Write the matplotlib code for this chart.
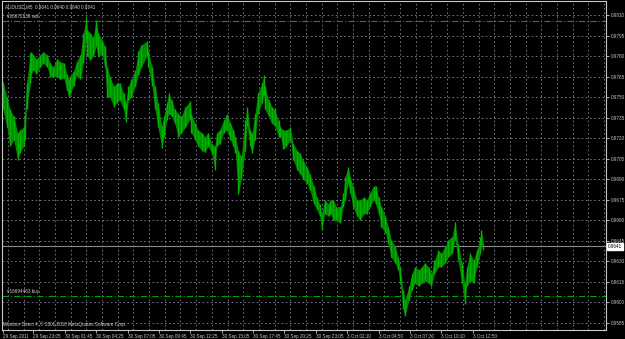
import matplotlib.pyplot as plt
import numpy as np

plt.rcParams['lines.scale_dashes'] = False
plt.rcParams['font.family'] = ['Liberation Sans', 'DejaVu Sans']

# AUDUSD M5, sampled bars (bar index, high, low)
bars = [0, 4, 7, 11, 15, 17, 21, 22, 24, 28, 29, 31, 34, 38, 41, 45, 48, 51, 55, 58,
        62, 65, 67, 68, 72, 75, 79, 82, 85, 86, 89, 92, 95, 97, 101, 104, 106, 109, 113, 116,
        119, 123, 125, 128, 131, 135, 138, 141, 147, 148, 152, 155, 158, 162, 164, 167, 169,
        172, 175, 179, 182, 186, 191, 192, 196, 199, 203, 206, 209, 213, 216, 218, 221, 225,
        228, 232, 235, 237, 240, 243, 247, 249, 252, 254, 257, 260, 264, 266, 267, 271, 274,
        277, 281, 283, 286, 289, 293, 296, 300, 303, 306, 310, 313, 317, 320, 323, 325, 328,
        332, 334, 337, 340, 344, 347, 349, 352, 354, 357, 361, 364, 368, 371, 374, 378, 380,
        383, 386, 390, 393, 396, 400, 403, 405, 408, 410, 414, 417, 420, 424, 427, 430, 434,
        437, 440, 444, 447, 451, 454, 458, 461, 464, 468, 471, 473, 476, 480, 483, 487, 488, 490]
high = [0.9761, 0.9750, 0.9741, 0.9736, 0.9724, 0.9726, 0.9728, 0.9738, 0.9760, 0.9782,
        0.9783, 0.9781, 0.9778, 0.9781, 0.9783, 0.9781, 0.9775, 0.9772, 0.9778, 0.9776,
        0.9775, 0.9767, 0.9763, 0.9765, 0.9769, 0.9776, 0.9781, 0.9797, 0.9808, 0.9799,
        0.9797, 0.9794, 0.9806, 0.9797, 0.9792, 0.9787, 0.9772, 0.9765, 0.9758, 0.9760,
        0.9760, 0.9753, 0.9746, 0.9758, 0.9763, 0.9770, 0.9784, 0.9788, 0.9791, 0.9784,
        0.9772, 0.9758, 0.9746, 0.9729, 0.9736, 0.9746, 0.9753,
        0.9748, 0.9741, 0.9738, 0.9736, 0.9743, 0.9747, 0.9738, 0.9731, 0.9726, 0.9724,
        0.9721, 0.9724, 0.9716, 0.9714, 0.9724, 0.9726, 0.9733,
        0.9738, 0.9731, 0.9726, 0.9721, 0.9711, 0.9707, 0.9733, 0.9743, 0.9726, 0.9724,
        0.9738, 0.9753, 0.9760, 0.9766, 0.9758, 0.9748, 0.9743,
        0.9741, 0.9733, 0.9728, 0.9726, 0.9726, 0.9728, 0.9716, 0.9711, 0.9709, 0.9704,
        0.9699, 0.9694, 0.9685, 0.9677, 0.9672, 0.9665, 0.9675,
        0.9672, 0.9675, 0.9675, 0.9670, 0.9670, 0.9680, 0.9692, 0.9699, 0.9692, 0.9685,
        0.9675, 0.9675, 0.9677, 0.9675, 0.9680, 0.9685, 0.9685,
        0.9677, 0.9670, 0.9663, 0.9655, 0.9646, 0.9641, 0.9633, 0.9626, 0.9609, 0.9602,
        0.9612, 0.9621, 0.9626, 0.9624, 0.9626, 0.9629, 0.9626,
        0.9621, 0.9631, 0.9638, 0.9636, 0.9641, 0.9646, 0.9648, 0.9659, 0.9643, 0.9629,
        0.9614, 0.9626, 0.9636, 0.9631, 0.9638, 0.9648, 0.9653, 0.9643]
low = [0.9741, 0.9728, 0.9714, 0.9719, 0.9704, 0.9709, 0.9714, 0.9719, 0.9741, 0.9760,
       0.9767, 0.9770, 0.9767, 0.9772, 0.9775, 0.9772, 0.9765, 0.9765, 0.9765, 0.9763,
       0.9764, 0.9755, 0.9750, 0.9752, 0.9758, 0.9766, 0.9763, 0.9775, 0.9792, 0.9780,
       0.9777, 0.9780, 0.9787, 0.9780, 0.9781, 0.9772, 0.9750, 0.9750, 0.9743, 0.9746,
       0.9748, 0.9741, 0.9732, 0.9748, 0.9750, 0.9758, 0.9766, 0.9772, 0.9780, 0.9772,
       0.9758, 0.9741, 0.9728, 0.9713, 0.9721, 0.9733, 0.9738,
       0.9736, 0.9731, 0.9721, 0.9724, 0.9728, 0.9734, 0.9724, 0.9719, 0.9714, 0.9711,
       0.9710, 0.9714, 0.9709, 0.9697, 0.9714, 0.9716, 0.9724,
       0.9726, 0.9719, 0.9714, 0.9709, 0.9679, 0.9690, 0.9711, 0.9729, 0.9714, 0.9709,
       0.9719, 0.9738, 0.9746, 0.9752, 0.9741, 0.9736, 0.9731,
       0.9729, 0.9721, 0.9721, 0.9712, 0.9714, 0.9719, 0.9704, 0.9697, 0.9694, 0.9690,
       0.9687, 0.9682, 0.9672, 0.9668, 0.9663, 0.9653, 0.9665,
       0.9663, 0.9665, 0.9660, 0.9660, 0.9658, 0.9670, 0.9675, 0.9687, 0.9680, 0.9670,
       0.9663, 0.9660, 0.9665, 0.9665, 0.9670, 0.9675, 0.9672,
       0.9665, 0.9655, 0.9651, 0.9643, 0.9633, 0.9629, 0.9624, 0.9614, 0.9595, 0.9590,
       0.9602, 0.9609, 0.9614, 0.9612, 0.9614, 0.9616, 0.9614,
       0.9612, 0.9621, 0.9626, 0.9626, 0.9629, 0.9633, 0.9636, 0.9646, 0.9631, 0.9614,
       0.9599, 0.9612, 0.9616, 0.9614, 0.9626, 0.9636, 0.9643, 0.9638]

price_ticks = [0.9585, 0.9600, 0.9615, 0.9630, 0.9645, 0.9660, 0.9675, 0.9690, 0.9705,
               0.9720, 0.9735, 0.9750, 0.9765, 0.9780, 0.9795, 0.9810]
time_ticks = [0, 31, 63, 95, 127, 159, 191, 223, 255, 287, 319, 351, 383, 415, 447, 479]
time_labels = ['29 Sep 2011', '29 Sep 23:05', '30 Sep 01:45', '30 Sep 04:25', '30 Sep 07:05',
               '30 Sep 09:45', '30 Sep 12:25', '30 Sep 15:05', '30 Sep 17:45', '30 Sep 20:25',
               '30 Sep 23:05', '3 Oct 02:10', '3 Oct 04:50', '3 Oct 07:30', '3 Oct 10:10', '3 Oct 12:50']
bid = 0.9641
sell_price = 0.98056
buy_price = 0.96049

fig = plt.figure(figsize=(6.25, 3.39), dpi=100, facecolor='black')
ax = fig.add_axes([0.0032, 0.0265, 0.9664, 0.9705], facecolor='black')

x = np.array(bars)
ax.fill_between(x, low, high, color='#008a00', lw=0, zorder=3)
ax.vlines(x, low, high, color='#00b400', lw=1.0, zorder=4)

# grid
grid_ls = (0, (1.2, 1.8))
for p in price_ticks:
    ax.axhline(p, color='#6c747c', lw=0.7, ls=grid_ls, zorder=1)
for t in np.arange(5, 620, 16):
    ax.axvline(t, color='#6c747c', lw=0.7, ls=grid_ls, zorder=1)

# order lines and bid line
order_ls = (0, (4.5, 1.5, 0.8, 1.5))
ax.axhline(sell_price, color='#00a000', lw=0.8, ls=order_ls, zorder=2)
ax.axhline(buy_price, color='#00a000', lw=0.8, ls=order_ls, zorder=2)
ax.axhline(bid, color='#8a8a8a', lw=0.8, zorder=2)

ax.set_xlim(-1, 615)
ax.set_ylim(0.95799, 0.98202)

fs = 3.3
ax.yaxis.tick_right()
ax.set_yticks(price_ticks)
ax.set_yticklabels(['%.4f' % p for p in price_ticks])
ax.set_xticks(time_ticks)
ax.set_xticklabels(time_labels, ha='left')
ax.tick_params(colors='#c8c8c8', labelsize=fs, length=2, width=0.6, pad=1.5)
ax.tick_params(axis='x', pad=1.0)
for s in ax.spines.values():
    s.set_color('#c8c8c8')
    s.set_linewidth(0.8)

ax.text(0.005, 0.99, 'AUDUSD,M5  0.9641 0.9640 0.9640 0.9641', transform=ax.transAxes,
        color='#d0d0d0', fontsize=fs, va='top')
ax.text(4, sell_price + 0.00012, '#16672139 sell', color='#d0d0d0', fontsize=fs, va='bottom')
ax.text(4, buy_price + 0.00012, '#16694463 buy', color='#d0d0d0', fontsize=fs, va='bottom')
ax.text(0.002, 0.008, 'Windsor Direct 4, \u00a9 2001-2010 MetaQuotes Software Corp.',
        transform=ax.transAxes, color='#d0d0d0', fontsize=fs, va='bottom')

# current price box on the price scale
ax.annotate('%.4f' % bid, xy=(1.0, bid), xycoords=('axes fraction', 'data'),
            xytext=(1.5, 0), textcoords='offset points', color='black', fontsize=fs,
            va='center', ha='left',
            bbox=dict(boxstyle='square,pad=0.2', fc='white', ec='white'))

plt.savefig('out.png', dpi=100, facecolor='black')
